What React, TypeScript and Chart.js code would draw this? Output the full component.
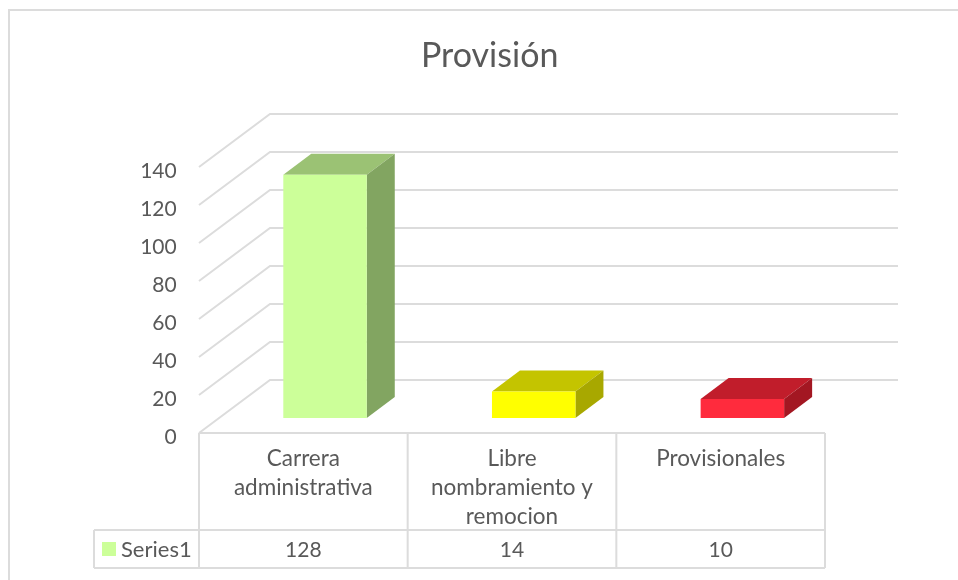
import React, { useEffect, useRef } from "react";
import { Chart, registerables } from "chart.js";

Chart.register(...registerables);

const titleText = "Provisión";
const seriesName = "Series1";
const categories = [["Carrera", "administrativa"], ["Libre", "nombramiento y", "remocion"], ["Provisionales"]];
const values = [128, 14, 10];
const yMin = 0;
const yMax = 140;
const yStep = 20;

const frontColors = ["#CCFF99", "#FFFF00", "#FF2B3D"];
const topColors = ["#9BC274", "#C4C400", "#C11D2B"];
const sideColors = ["#82A561", "#A8A800", "#A31722"];
const keyColor = "#CCFF99";
const gridColor = "#DCDCDC";
const textColor = "#595959";
const fontFamily = "Lato, 'Open Sans', sans-serif";

const FLOOR_X = 71, FLOOR_Y = 53;       // depth of the whole floor
const BAR_DX = 28, BAR_DY = 21;         // depth of a bar
const INSET_X = 21.7, INSET_Y = 15;     // bar's front plane behind the chart's front plane

const scene3d = {
  id: "scene3d",
  beforeDatasetsDraw(chart: any) {
    const { ctx, chartArea, scales } = chart;
    const y = scales.y;
    const frontL = chartArea.left - INSET_X;
    const frontR = chartArea.right - INSET_X;
    ctx.save();
    ctx.strokeStyle = gridColor;
    ctx.lineWidth = 2;
    y.ticks.forEach((t: any) => {
      const fy = y.getPixelForValue(t.value) + INSET_Y;
      ctx.beginPath();
      ctx.moveTo(frontL, fy);
      ctx.lineTo(frontL + FLOOR_X, fy - FLOOR_Y);
      ctx.lineTo(frontR + FLOOR_X + 2, fy - FLOOR_Y);
      ctx.stroke();
    });
    const meta = chart.getDatasetMeta(0);
    meta.data.forEach((el: any, i: number) => {
      const l = el.x - el.width / 2, r = el.x + el.width / 2;
      ctx.fillStyle = topColors[i];
      ctx.beginPath();
      ctx.moveTo(l, el.y);
      ctx.lineTo(l + BAR_DX, el.y - BAR_DY);
      ctx.lineTo(r + BAR_DX, el.y - BAR_DY);
      ctx.lineTo(r, el.y);
      ctx.closePath();
      ctx.fill();
      ctx.fillStyle = sideColors[i];
      ctx.beginPath();
      ctx.moveTo(r, el.y);
      ctx.lineTo(r + BAR_DX, el.y - BAR_DY);
      ctx.lineTo(r + BAR_DX, el.base - BAR_DY);
      ctx.lineTo(r, el.base);
      ctx.closePath();
      ctx.fill();
    });
    ctx.restore();
  },
  afterDraw(chart: any) {
    const { ctx, chartArea, scales, data } = chart;
    const x = scales.x;
    const y = scales.y;
    const top = y.getPixelForValue(0) + INSET_Y;
    const headerBottom = top + 97;
    const rowBottom = headerBottom + 38;
    const keyLeft = 94;
    const n = data.labels.length;
    const cell = (chartArea.right - chartArea.left) / n;
    const left = chartArea.left - INSET_X;
    ctx.save();
    // outer frame of the chart
    ctx.strokeStyle = gridColor;
    ctx.lineWidth = 2;
    ctx.beginPath();
    ctx.moveTo(9, chart.height);
    ctx.lineTo(9, 10);
    ctx.lineTo(chart.width, 10);
    ctx.stroke();
    // data table
    ctx.beginPath();
    ctx.moveTo(left, top);
    ctx.lineTo(left + cell * n, top);
    ctx.moveTo(keyLeft, headerBottom);
    ctx.lineTo(left + cell * n, headerBottom);
    ctx.moveTo(keyLeft, rowBottom);
    ctx.lineTo(left + cell * n, rowBottom);
    ctx.moveTo(keyLeft, headerBottom);
    ctx.lineTo(keyLeft, rowBottom);
    for (let i = 0; i <= n; i++) {
      ctx.moveTo(left + cell * i, top);
      ctx.lineTo(left + cell * i, rowBottom);
    }
    ctx.stroke();
    // series key and values
    const midY = (headerBottom + rowBottom) / 2;
    ctx.fillStyle = keyColor;
    ctx.fillRect(keyLeft + 8, midY - 7, 14, 14);
    ctx.fillStyle = textColor;
    ctx.textBaseline = "middle";
    ctx.textAlign = "left";
    ctx.font = `22px ${fontFamily}`;
    ctx.fillText(data.datasets[0].label, keyLeft + 27, midY + 1);
    ctx.textAlign = "center";
    ctx.font = `21px ${fontFamily}`;
    data.datasets[0].data.forEach((v: number, i: number) => {
      ctx.fillText(String(v), x.getPixelForTick(i) - INSET_X, midY + 1);
    });
    ctx.restore();
  },
};

export default function App() {
  const ref = useRef<HTMLCanvasElement>(null);
  useEffect(() => {
    const chart = new Chart(ref.current as HTMLCanvasElement, {
      type: "bar",
      data: {
        labels: categories as any,
        datasets: [{
          label: seriesName,
          data: values,
          backgroundColor: frontColors,
          borderWidth: 0,
          barPercentage: 0.4,
          categoryPercentage: 1,
        }],
      },
      plugins: [scene3d],
      options: {
        responsive: false,
        animation: false,
        layout: { padding: { left: 132.7, right: 111.3, top: 36, bottom: 12 } },
        plugins: {
          legend: { display: false },
          tooltip: { enabled: false },
          title: {
            display: true,
            text: titleText,
            color: textColor,
            font: { family: fontFamily, size: 34, weight: "normal" },
            padding: { top: 0, bottom: 75.2 },
          },
        },
        scales: {
          x: {
            grid: { display: false, drawTicks: false },
            border: { display: false },
            afterFit(s: any) { s.height = 150; },
            ticks: {
              color: textColor,
              font: { family: fontFamily, size: 22.5, lineHeight: 1.29 },
              padding: 26,
              labelOffset: -INSET_X,
              maxRotation: 0,
              minRotation: 0,
              autoSkip: false,
            },
          },
          y: {
            min: yMin,
            max: yMax,
            grid: { display: false, drawTicks: false },
            border: { display: false },
            afterFit(s: any) { s.width = 88; },
            ticks: {
              stepSize: yStep,
              color: textColor,
              font: { family: fontFamily, size: 21 },
              padding: 44,
              labelOffset: 19,
            },
          },
        },
      },
    } as any);
    return () => chart.destroy();
  }, []);
  return (
    <canvas
      ref={ref}
      width={958}
      height={580}
      style={{ position: "fixed", left: 0, top: 0, width: 958, height: 580, display: "block" }}
    />
  );
}
